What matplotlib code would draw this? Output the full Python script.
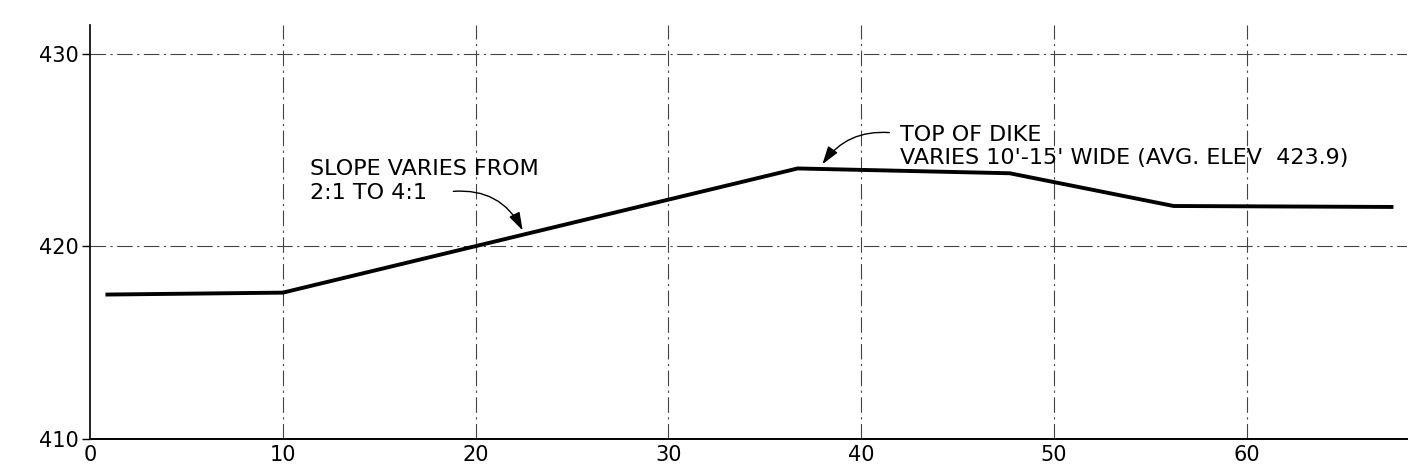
from matplotlib import pyplot as plt

# dike cross-section profile (station in ft, elevation in ft)
station = [0.8, 10.0, 36.7, 47.7, 56.2, 67.6]
elevation = [417.5, 417.6, 424.05, 423.8, 422.1, 422.05]

x_ticks = [0, 10, 20, 30, 40, 50, 60]
y_ticks = [410, 420, 430]

slope_note = "SLOPE VARIES FROM\n2:1 TO 4:1"
slope_text_at = (11.4, 423.4)
slope_arrow_to = (22.5, 420.7)
slope_arrow_from = (18.7, 422.85)

top_note = "TOP OF DIKE\nVARIES 10'-15' WIDE (AVG. ELEV  423.9)"
top_text_at = (42.0, 425.2)
top_arrow_to = (37.9, 424.15)
top_arrow_from = (41.6, 425.9)

plt.rcParams['font.family'] = ['DejaVu Sans']

fig = plt.figure(figsize=(14.16, 4.72), dpi=100)
ax = fig.add_axes([0.0636, 0.07, 0.93, 0.877])

ax.set_xlim(0, 68.3)
ax.set_ylim(410, 431.5)

# drafting-style grid
grid_kw = dict(color="#444444", linewidth=0.8, dashes=[14, 4, 2, 4])
for x in x_ticks[1:]:
    ax.axvline(x, **grid_kw)
for y in y_ticks[1:]:
    ax.axhline(y, **grid_kw)

ax.plot(station, elevation, color="black", linewidth=2.8, solid_capstyle="butt")

arrow_style = "-|>,head_length=1.1,head_width=0.35"

ax.text(slope_text_at[0], slope_text_at[1], slope_note, fontsize=16,
        va="center", ha="left", linespacing=1.2)
ax.annotate("", xy=slope_arrow_to, xytext=slope_arrow_from,
            arrowprops=dict(arrowstyle=arrow_style,
                            color="black", linewidth=1.0,
                            connectionstyle="arc3,rad=-0.35"))

ax.text(top_text_at[0], top_text_at[1], top_note, fontsize=16,
        va="center", ha="left", linespacing=1.2)
ax.annotate("", xy=top_arrow_to, xytext=top_arrow_from,
            arrowprops=dict(arrowstyle=arrow_style,
                            color="black", linewidth=1.0,
                            connectionstyle="arc3,rad=0.3"))

ax.set_xticks(x_ticks)
ax.set_yticks(y_ticks)
ax.tick_params(axis="x", length=0, labelsize=15, pad=4)
ax.tick_params(axis="y", length=6, labelsize=15, pad=2, width=1)

ax.spines["top"].set_visible(False)
ax.spines["right"].set_visible(False)
ax.spines["left"].set_linewidth(1.2)
ax.spines["bottom"].set_linewidth(1.4)

plt.savefig("out.png", dpi=100)
